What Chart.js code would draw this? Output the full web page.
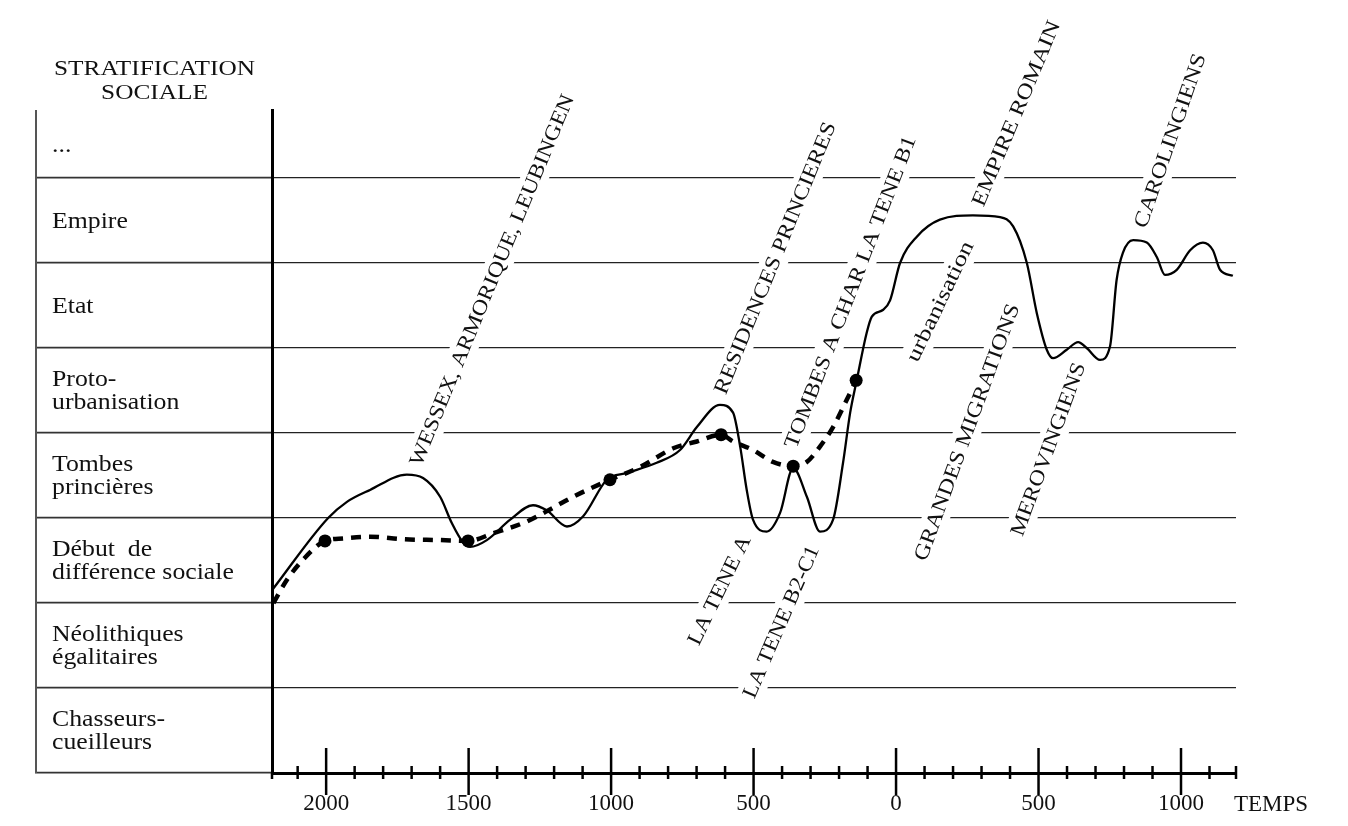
<!DOCTYPE html>
<html lang="fr">
<head>
<meta charset="utf-8">
<title>Stratification sociale</title>
<script src="https://cdn.jsdelivr.net/npm/chart.js@4.4.0/dist/chart.umd.min.js"></script>
<style>
  html, body { margin:0; padding:0; background:#fff; }
  canvas { display:block; }
</style>
</head>
<body>
<canvas id="chart" width="1348" height="826"></canvas>
<script>
// Stratification sociale en Europe — courbe d'évolution (Chart.js)

// Niveaux de la colonne de gauche, du bas vers le haut
const niveaux = [
  ['Chasseurs-', 'cueilleurs'],
  ['Néolithiques', 'égalitaires'],
  ['Début  de', 'différence sociale'],
  ['Tombes', 'princières'],
  ['Proto-', 'urbanisation'],
  ['Etat'],
  ['Empire'],
  ['...']
];
const niveauMax = 7.8;

// Graduations de l'axe du temps (années, négatif = av. J.-C.)
const graduations = [-2100, -2000, -1900, -1800, -1700, -1600, -1500, -1400, -1300, -1200, -1100,
  -1000, -900, -800, -700, -600, -500, -400, -300, -200, -100, 0, 100, 200, 300, 400, 500,
  600, 700, 800, 900, 1000, 1100];
const anneeMin = -2190, anneeMax = 1193;

// Courbe continue
const anneesTrait = [-2190, -1993, -1927, -1846, -1717, -1660, -1600, -1559, -1519, -1495, -1436,
  -1354, -1274, -1226, -1155, -1098, -1015, -945, -840, -758, -699, -618, -572, -547, -524, -502,
  -454, -407, -361, -313, -267, -221, -186, -161, -138, -103, -85, -45, -21, 14, 73, 154, 270,
  365, 411, 459, 494, 529, 551, 599, 639, 669, 716, 751, 774, 796, 832, 880, 915, 944, 985,
  1032, 1077, 1112, 1137, 1182];
const niveauTrait = [2.15, 3.0, 3.19, 3.33, 3.51, 3.47, 3.25, 2.94, 2.71, 2.66, 2.74,
  2.98, 3.15, 3.09, 2.90, 3.02, 3.45, 3.53, 3.65, 3.80, 4.07, 4.33, 4.24, 3.84, 3.33, 2.98,
  2.84, 3.06, 3.59, 3.25, 2.84, 2.98, 3.65, 4.24, 4.62, 5.18, 5.37, 5.45, 5.56, 6.0, 6.31, 6.51, 6.56,
  6.54, 6.43, 6.0, 5.41, 4.98, 4.88, 4.98, 5.07, 5.0, 4.86, 5.02, 5.80, 6.12, 6.27, 6.24, 6.07, 5.86, 5.92,
  6.15, 6.24, 6.15, 5.92, 5.85];

// Courbe en tirets
const anneesTirets = [-2185, -2138, -2081, -2004, -1940, -1846, -1730, -1600, -1502, -1414, -1295,
  -1204, -1133, -1004, -898, -782, -699, -614, -572, -502, -432, -361, -313, -267, -221, -173, -140];
const niveauTirets = [2.0, 2.27, 2.51, 2.73, 2.76, 2.78, 2.75, 2.74, 2.73, 2.82, 2.96,
  3.12, 3.25, 3.45, 3.60, 3.82, 3.90, 3.98, 3.90, 3.80, 3.66, 3.61, 3.66, 3.84, 4.07, 4.39, 4.62];

// Points noirs sur les tirets
const anneesPoints = [-2004, -1502, -1004, -614, -361, -140];
const niveauPoints = [2.73, 2.73, 3.45, 3.98, 3.61, 4.62];

// Périodes (texte incliné), ancrées en (année, niveau)
const periodes = ['WESSEX, ARMORIQUE, LEUBINGEN', 'RESIDENCES PRINCIERES', 'TOMBES A CHAR LA TENE B1',
  'urbanisation', 'EMPIRE ROMAIN', 'GRANDES MIGRATIONS', 'MEROVINGIENS', 'CAROLINGIENS',
  'LA TENE A', 'LA TENE B2-C1'];
const periodesAnnee = [-1419, -425, -161, 154, 421, 248, 533, 961, -621, -404];
const periodesNiveau = [5.80, 6.06, 5.66, 5.55, 7.76, 4.01, 3.81, 7.44, 2.15, 1.78];

// mise en page des étiquettes inclinées : angle (degrés) et longueur (px)
const periodesStyle = [
  {angle: 67.5, long: 400}, {angle: 67.8, long: 292}, {angle: 68.9, long: 333},
  {angle: 64.5, long: 131}, {angle: 67.2, long: 199}, {angle: 69.9, long: 272},
  {angle: 69.8, long: 183}, {angle: 70.9, long: 183}, {angle: 64, long: 119},
  {angle: 66.6, long: 164}
];

const SERIF = '"Liberation Serif", "Times New Roman", serif';
const pts = (xs, ys) => xs.map((a, i) => ({x: a, y: ys[i]}));

function texte(ctx, str, x, y, size, align, sx) {
  ctx.save();
  ctx.font = size + 'px ' + SERIF;
  ctx.fillStyle = '#111';
  ctx.textBaseline = 'alphabetic';
  const w = ctx.measureText(str).width * sx;
  let x0 = x;
  if (align === 'center') x0 = x - w / 2;
  ctx.translate(x0, y);
  ctx.scale(sx, 1);
  ctx.textAlign = 'left';
  ctx.fillText(str, 0, 0);
  ctx.restore();
}

const decor = {
  id: 'decor',
  beforeDatasetsDraw(chart) {
    const {ctx, scales: {x, y}} = chart;
    // étiquettes inclinées sur fond blanc (coupent les lignes de la grille)
    periodes.forEach((txt, i) => {
      const st = periodesStyle[i];
      ctx.save();
      ctx.translate(x.getPixelForValue(periodesAnnee[i]), y.getPixelForValue(periodesNiveau[i]));
      ctx.rotate(-st.angle * Math.PI / 180);
      ctx.font = '21px ' + SERIF;
      const sx = st.long / ctx.measureText(txt).width;
      ctx.fillStyle = '#fff';
      ctx.fillRect(-st.long / 2 - 5, -13, st.long + 10, 27);
      ctx.scale(sx, 1);
      ctx.fillStyle = '#111';
      ctx.textAlign = 'center';
      ctx.textBaseline = 'middle';
      ctx.fillText(txt, 0, 1);
      ctx.restore();
    });
  },
  afterDraw(chart) {
    const {ctx, chartArea: ca, scales: {x, y}} = chart;
    ctx.save();
    // bord gauche du tableau
    ctx.strokeStyle = '#555';
    ctx.lineWidth = 2;
    ctx.beginPath();
    ctx.moveTo(y.left + 1, ca.top);
    ctx.lineTo(y.left + 1, ca.bottom);
    ctx.stroke();

    // graduations de l'axe du temps, traversant l'axe
    ctx.strokeStyle = '#000';
    ctx.lineWidth = 2.5;
    graduations.forEach(v => {
      const px = x.getPixelForValue(v);
      const majeur = v % 500 === 0;
      ctx.beginPath();
      ctx.moveTo(px, ca.bottom - (majeur ? 25 : 7));
      ctx.lineTo(px, ca.bottom + (majeur ? 22 : 6));
      ctx.stroke();
    });
    ctx.beginPath();
    ctx.moveTo(x.right, ca.bottom - 7);
    ctx.lineTo(x.right, ca.bottom + 6);
    ctx.moveTo(x.left, ca.bottom);
    ctx.lineTo(x.left, ca.bottom + 6);
    ctx.stroke();
    ctx.restore();

    // libellés des niveaux
    const lx = y.left + 17;
    niveaux.forEach((lignes, i) => {
      const c = i < 7 ? y.getPixelForValue(i + 0.5) : y.getPixelForValue((7 + niveauMax) / 2);
      if (lignes.length === 1) {
        texte(ctx, lignes[0], lx, c + 7.5, 23, 'left', 1.12);
      } else {
        texte(ctx, lignes[0], lx, c - 4.5, 23, 'left', 1.12);
        texte(ctx, lignes[1], lx, c + 18.5, 23, 'left', 1.12);
      }
    });

    // titres
    const tx = (y.left + ca.left) / 2 + 1;
    texte(ctx, 'STRATIFICATION', tx, 75, 22, 'center', 1.15);
    texte(ctx, 'SOCIALE', tx, 99, 22, 'center', 1.15);
    texte(ctx, 'TEMPS', x.right - 2, 811, 23, 'left', 1.0);
  }
};

new Chart(document.getElementById('chart'), {
  type: 'line',
  data: {
    datasets: [
      {
        label: 'points',
        data: pts(anneesPoints, niveauPoints),
        showLine: false,
        pointRadius: 6.5,
        pointBackgroundColor: '#000',
        pointBorderWidth: 0
      },
      {
        label: 'trait',
        data: pts(anneesTrait, niveauTrait),
        borderColor: '#000',
        borderWidth: 2.3,
        pointRadius: 0,
        cubicInterpolationMode: 'monotone',
        fill: false
      },
      {
        label: 'tirets',
        data: pts(anneesTirets, niveauTirets),
        borderColor: '#000',
        borderWidth: 4.5,
        borderDash: [10, 8],
        pointRadius: 0,
        cubicInterpolationMode: 'monotone',
        fill: false
      }
    ]
  },
  options: {
    responsive: false,
    devicePixelRatio: 1,
    animation: false,
    layout: { padding: { left: 35, right: 112, top: 110, bottom: 0 } },
    plugins: { legend: { display: false }, tooltip: { enabled: false } },
    scales: {
      x: {
        type: 'linear',
        min: anneeMin, max: anneeMax,
        afterBuildTicks: s => { s.ticks = graduations.map(v => ({value: v})); },
        afterFit: s => { s.height = 53; },
        grid: { display: true, drawOnChartArea: false, drawTicks: false },
        border: { display: true, color: '#000', width: 3 },
        ticks: {
          autoSkip: false, maxRotation: 0, padding: 17,
          color: '#111',
          font: { family: SERIF, size: 23 },
          callback: v => v % 500 === 0 ? String(Math.abs(v)) : ''
        }
      },
      y: {
        type: 'linear',
        min: 0, max: niveauMax,
        afterBuildTicks: s => { s.ticks = [0, 1, 2, 3, 4, 5, 6, 7].map(v => ({value: v})); },
        afterFit: s => { s.width = 237; },
        grid: { color: '#222', lineWidth: 1.3, drawTicks: true, tickLength: 237, tickColor: '#333', tickWidth: 1.6 },
        border: { display: true, color: '#000', width: 3 },
        ticks: { display: false }
      }
    }
  },
  plugins: [decor]
});
</script>
</body>
</html>
